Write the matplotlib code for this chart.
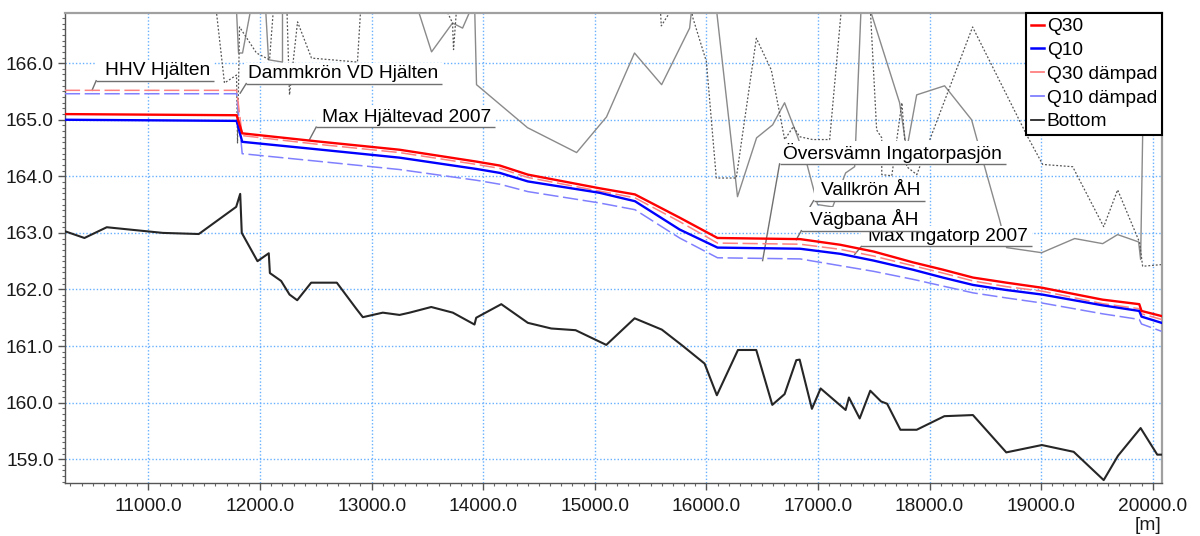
import matplotlib
matplotlib.use("Agg")
import matplotlib.pyplot as plt
from matplotlib.ticker import MultipleLocator, FormatStrFormatter
from matplotlib.patches import Rectangle
from matplotlib.lines import Line2D
from matplotlib.transforms import offset_copy

plt.rcParams['font.family'] = ['Liberation Sans', 'DejaVu Sans']
FS = 13.8

# --- water surface profiles (chainage in m, level in m) ---
chainage = [10250, 11790, 11840, 12500, 13250, 13940, 14150, 14400, 15040, 15360,
            15760, 16100, 16840, 17200, 17500, 17850, 18120, 18390, 18690, 19010,
            19550, 19880, 19900, 20080]
q30 = [165.10, 165.08, 164.76, 164.62, 164.47, 164.26, 164.19, 164.03, 163.79, 163.68,
       163.27, 162.91, 162.89, 162.79, 162.67, 162.48, 162.35, 162.21, 162.12, 162.03,
       161.82, 161.74, 161.62, 161.53]
q10 = [165.00, 164.98, 164.61, 164.48, 164.33, 164.13, 164.06, 163.91, 163.71, 163.56,
       163.06, 162.74, 162.72, 162.63, 162.51, 162.35, 162.21, 162.08, 161.99, 161.91,
       161.72, 161.62, 161.52, 161.41]
q30_damped = [165.52, 165.52, 164.72, 164.57, 164.42, 164.21, 164.14, 163.98, 163.74, 163.62,
              163.20, 162.82, 162.80, 162.71, 162.59, 162.42, 162.29, 162.15, 162.05, 161.97,
              161.75, 161.66, 161.57, 161.47]
q10_damped = [165.46, 165.46, 164.40, 164.27, 164.12, 163.93, 163.86, 163.73, 163.53, 163.41,
              162.91, 162.56, 162.54, 162.42, 162.32, 162.18, 162.06, 161.94, 161.85, 161.76,
              161.57, 161.47, 161.39, 161.26]

# --- channel bottom ---
bottom_x = [10250, 10426, 10626, 11128, 11451, 11786, 11822, 11836, 11977, 12078,
            12088, 12189, 12264, 12333, 12458, 12688, 12862, 12921, 13100, 13250,
            13340, 13534, 13728, 13922, 13937, 14162, 14400, 14610, 14828, 15103,
            15357, 15601, 15790, 15984, 16094, 16283, 16447, 16591, 16701, 16806,
            16836, 16946, 17024, 17248, 17278, 17374, 17469, 17566, 17620, 17739,
            17885, 18133, 18389, 18688, 19007, 19292, 19561, 19689, 19892, 20041, 20080]
bottom_z = [163.03, 162.91, 163.10, 163.00, 162.98, 163.46, 163.69, 163.00, 162.50, 162.64,
            162.29, 162.15, 161.91, 161.81, 162.12, 162.12, 161.66, 161.51, 161.59, 161.55,
            161.59, 161.69, 161.59, 161.38, 161.50, 161.74, 161.41, 161.31, 161.28, 161.02,
            161.49, 161.29, 161.00, 160.69, 160.13, 160.93, 160.93, 159.96, 160.15, 160.75,
            160.76, 159.89, 160.25, 159.87, 160.09, 159.72, 160.21, 160.02, 159.98, 159.52,
            159.52, 159.76, 159.78, 159.12, 159.25, 159.13, 158.63, 159.06, 159.55, 159.08, 159.08]

# --- bank levels (partly above the plotted range) ---
left_bank_x = [11780, 11807, 11843, 11950, 12040, 12076, 12201, 12201, 13358, 13537,
               13725, 13815, 13922, 13940, 14397, 14837, 15105, 15356, 15599, 15850,
               15876, 16082, 16279, 16450, 16594, 16701, 16818, 16898, 16997, 17132,
               17248, 17329, 17391, 17427, 17732, 17795, 17885, 18135, 18377, 18431,
               18628, 18691, 19005, 19301, 19552, 19686, 19874, 19892, 19910, 19928]
left_bank_z = [167.30, 166.18, 166.18, 167.30, 167.30, 166.06, 166.02, 167.30, 167.30, 166.20,
               166.71, 166.62, 167.10, 165.62, 164.86, 164.42, 165.05, 166.18, 165.62, 166.62,
               167.10, 167.10, 163.64, 164.68, 164.91, 165.30, 164.70, 164.24, 163.50, 163.46,
               164.06, 164.17, 167.20, 167.20, 165.30, 164.47, 165.44, 165.60, 165.00, 164.61,
               163.23, 162.74, 162.65, 162.90, 162.81, 162.97, 162.84, 162.53, 164.70, 167.20]
right_bank_x = [11592, 11681, 11789, 11798, 11816, 11968, 12085, 12129, 12237, 12264,
                12336, 12461, 12873, 12909, 13608, 13725, 13734, 13770, 15581, 15596,
                15769, 15858, 15876, 16000, 16089, 16268, 16448, 16582, 16702, 16780,
                16836, 16952, 17105, 17221, 17463, 17526, 17572, 17572, 17662, 17752,
                17796, 17886, 18003, 18386, 18879, 19014, 19283, 19561, 19686, 19883,
                19910, 20080]
right_bank_z = [167.20, 165.65, 165.79, 164.59, 166.64, 166.18, 166.06, 167.20, 167.20, 165.44,
                166.73, 166.09, 166.02, 167.20, 167.20, 166.71, 166.24, 167.20, 167.20, 166.66,
                167.20, 167.20, 166.82, 166.03, 163.97, 163.97, 166.44, 165.88, 164.65, 164.88,
                164.70, 164.65, 164.65, 167.20, 167.20, 164.82, 164.68, 164.03, 164.01, 165.30,
                164.17, 164.03, 164.65, 166.64, 164.70, 164.21, 164.17, 163.11, 163.76, 162.83,
                162.41, 162.44]

# --- labelled levels: text, leader target (x, z), underline start (x, z), text start x ---
marker_text = ['HHV Hjälten', 'Dammkrön VD Hjälten', 'Max Hjältevad 2007',
               'Översvämn Ingatorpasjön', 'Vallkrön ÅH', 'Max Ingatorp 2007', 'Vägbana ÅH']
marker_target = [(10494, 165.52), (11822, 165.47), (12443, 164.65),
                 (16504, 162.51), (16907, 163.39), (17329, 162.62), (16806, 162.88)]
marker_line = [(10531, 165.69), (11876, 165.64), (12503, 164.87),
               (16656, 164.22), (16961, 163.57), (17389, 162.76), (16851, 163.04)]
marker_text_x = [10606, 11890, 12556, 16686, 17030, 17447, 16925]

fig = plt.figure(figsize=(12, 5.36), dpi=100)
ax = fig.add_axes([0.054, 0.099, 0.914, 0.876])

ax.set_xlim(10250, 20080)
ax.set_ylim(158.58, 166.88)

ax.plot(left_bank_x, left_bank_z, color='#8a8a8a', lw=1.0, zorder=2)
ax.plot(right_bank_x, right_bank_z, color='#555555', lw=0.9,
        linestyle=(0, (1.5, 1.5)), zorder=2)

ax.plot(chainage, q10_damped, color='#8080ff', lw=1.1, linestyle=(0, (10, 3)), zorder=20)
ax.plot(chainage, q30_damped, color='#ff8080', lw=1.1, linestyle=(0, (10, 3)), zorder=20)
ax.plot(chainage, q10, color='#0000ff', lw=1.7, zorder=21)
ax.plot(chainage, q30, color='#ff0000', lw=1.7, zorder=22)
ax.plot(bottom_x, bottom_z, color='#262626', lw=1.5, zorder=21)

# axes, ticks, grid
ax.xaxis.set_major_locator(MultipleLocator(1000))
ax.xaxis.set_minor_locator(MultipleLocator(100))
ax.yaxis.set_major_locator(MultipleLocator(1.0))
ax.yaxis.set_minor_locator(MultipleLocator(0.1))
ax.xaxis.set_major_formatter(FormatStrFormatter('%.1f'))
ax.yaxis.set_major_formatter(FormatStrFormatter('%.1f'))
ax.tick_params(which='major', direction='out', length=5, width=1, color='#555555',
               labelsize=FS, labelcolor='#1a1a1a')
ax.tick_params(axis='x', which='major', pad=6)
ax.tick_params(axis='y', which='major', pad=3)
ax.tick_params(which='minor', direction='out', length=2.5, width=0.8, color='#666666')
ax.grid(True, which='major', color='#66b0ff', linestyle=(0, (1, 1.5)), lw=1.0)
ax.set_axisbelow(True)
for side in ('top', 'right'):
    ax.spines[side].set_color('#a0a0a0')
    ax.spines[side].set_linewidth(1.6)
for side in ('left', 'bottom'):
    ax.spines[side].set_color('#555555')
    ax.spines[side].set_linewidth(1.0)
ax.set_xlabel('[m]', loc='right', fontsize=FS, color='#1a1a1a', labelpad=1)

# level labels with underline, leader and a white backing box
fig.canvas.draw()
renderer = fig.canvas.get_renderer()
inv = ax.transData.inverted()
for i, (txt, tgt, (lx, lz), tx) in enumerate(zip(marker_text, marker_target,
                                                  marker_line, marker_text_x)):
    z = 5 + 2 * i
    trans = offset_copy(ax.transData, fig=fig, x=0, y=3.8, units='points')
    t = ax.text(tx, lz, txt, transform=trans, ha='left', va='baseline',
                fontsize=FS, color='#000000', zorder=z + 1)
    bb = t.get_window_extent(renderer)
    x_end, z_top = inv.transform((bb.x1 + 4, bb.y1 + 2))
    ax.add_patch(Rectangle((lx, lz), x_end - lx, z_top - lz, facecolor='white',
                           edgecolor='none', zorder=z))
    ax.plot([lx, x_end], [lz, lz], color='#707070', lw=1.0, zorder=z + 1,
            solid_capstyle='butt')
    ax.plot([lx, tgt[0]], [lz, tgt[1]], color='#707070', lw=1.0, zorder=z + 1)

handles = [Line2D([], [], color='#ff0000', lw=1.8),
           Line2D([], [], color='#0000ff', lw=1.8),
           Line2D([], [], color='#ff8080', lw=1.3),
           Line2D([], [], color='#8080ff', lw=1.3),
           Line2D([], [], color='#262626', lw=1.3)]
leg = ax.legend(handles, ['Q30', 'Q10', 'Q30 dämpad', 'Q10 dämpad', 'Bottom'],
                loc='upper right', fontsize=FS, frameon=True, fancybox=False,
                framealpha=1, edgecolor='#000000', handlelength=0.7,
                handletextpad=0.12, labelspacing=0.33, borderpad=0.24,
                borderaxespad=0.0)
leg.get_frame().set_linewidth(1.5)
leg.set_zorder(50)

fig.savefig('out.png', dpi=100)
